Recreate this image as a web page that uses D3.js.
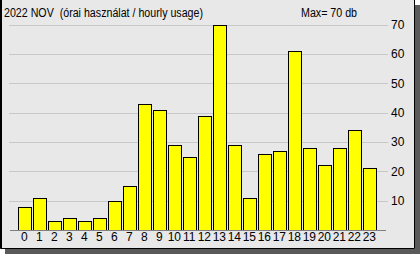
<!DOCTYPE html>
<html>
<head>
<meta charset="utf-8">
<script src="https://cdn.jsdelivr.net/npm/d3@7"></script>
<style>
  body { margin: 0; background: #ffffff; }
  svg { display: block; font-family: "Liberation Sans", Arial, sans-serif; }
</style>
</head>
<body>
<div id="chart-area"></div>
<script>
const hours = d3.range(0, 24).map(String);
const usage = [8, 11, 3, 4, 3, 4, 10, 15, 43, 41, 29, 25, 39, 70, 29, 11, 26, 27, 61, 28, 22, 28, 34, 21];
const yTicks = [10, 20, 30, 40, 50, 60, 70];
const titleText = "2022 NOV  (órai használat / hourly usage)";
const maxText = "Max= 70 db";

const drawGraph = () => {
  const width = 420;
  const height = 254;

  const svg = d3.select("#chart-area")
                .append("svg")
                .attr("width", width)
                .attr("height", height);

  // shadow + panel
  svg.append("rect")
     .attr("x", 5).attr("y", 5)
     .attr("width", 415).attr("height", 249)
     .attr("fill", "#5a5a5a");

  svg.append("rect")
     .attr("x", 0).attr("y", 0)
     .attr("width", 415).attr("height", 249)
     .attr("fill", "#e8e8e8");

  svg.append("path")
     .attr("d", "M0.5,0 V248.5 H414.5 V0")
     .attr("fill", "none")
     .attr("stroke", "#000")
     .attr("stroke-width", 1);
  svg.append("line")
     .attr("x1", 1.5).attr("x2", 1.5).attr("y1", 0).attr("y2", 248)
     .attr("stroke", "#000");

  const x = d3.scaleBand()
              .domain(hours)
              .range([18, 375.6])
              .paddingInner(0.16)
              .paddingOuter(0);

  const y = d3.scaleLinear()
              .domain([0, 70])
              .range([230, 24.5]);

  // gridlines + right labels
  const axisY = d3.axisRight(y)
                  .tickValues(yTicks)
                  .tickSize(-(388 - 9))
                  .tickPadding(3);

  const gy = svg.append("g")
                .attr("transform", "translate(388,0)")
                .call(axisY);
  gy.select(".domain").remove();
  gy.selectAll(".tick line")
    .attr("stroke", "#c8c8c8")
    .attr("shape-rendering", "crispEdges");
  gy.selectAll(".tick text")
    .attr("fill", "#000")
    .attr("font-size", 12)
    .attr("font-family", "Liberation Sans, Arial, sans-serif");

  // bars
  svg.append("g")
     .selectAll("rect")
     .data(usage)
     .enter()
     .append("rect")
     .attr("x", (d, i) => Math.round(x(hours[i])) + 0.5)
     .attr("y", d => Math.round(y(d)) + 0.5)
     .attr("width", Math.round(x.bandwidth()))
     .attr("height", d => Math.round(y(0)) - Math.round(y(d)))
     .attr("fill", "#ffff00")
     .attr("stroke", "#000")
     .attr("stroke-width", 1);

  // baseline
  svg.append("line")
     .attr("x1", 10).attr("x2", 386)
     .attr("y1", 230.5).attr("y2", 230.5)
     .attr("stroke", "#808080");

  // x labels
  const axisX = d3.axisBottom(x).tickSize(0).tickPadding(0);
  const gx = svg.append("g")
                .attr("transform", "translate(0,232)")
                .call(axisX);
  gx.select(".domain").remove();
  gx.selectAll(".tick text")
    .attr("fill", "#000")
    .attr("font-size", 12)
    .attr("dy", "0.71em")
    .attr("font-family", "Liberation Sans, Arial, sans-serif");

  svg.append("text")
     .attr("x", 4)
     .attr("y", 17)
     .attr("font-size", 12)
     .style("white-space", "pre")
     .attr("textLength", 199)
     .attr("lengthAdjust", "spacingAndGlyphs")
     .text(titleText);

  svg.append("text")
     .attr("x", 301)
     .attr("y", 17)
     .attr("font-size", 12)
     .attr("textLength", 56)
     .attr("lengthAdjust", "spacingAndGlyphs")
     .text(maxText);
};

drawGraph();
</script>
</body>
</html>
